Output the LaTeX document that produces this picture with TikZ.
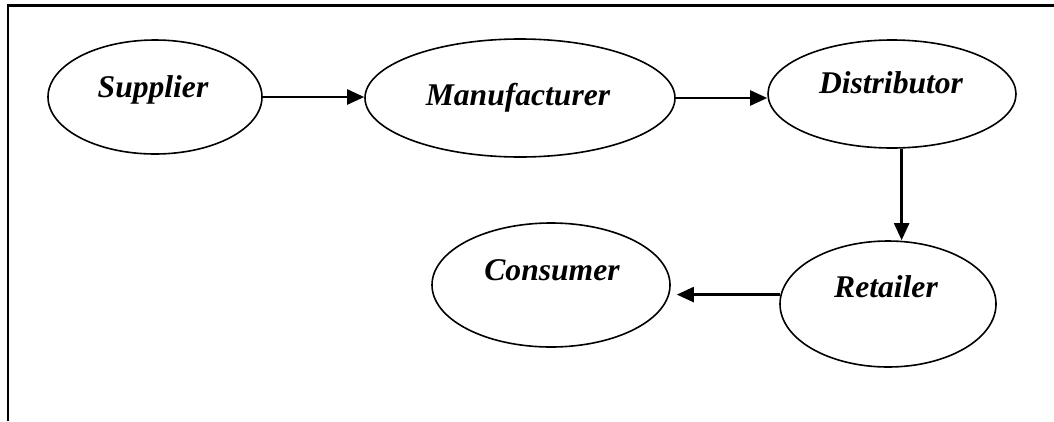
\documentclass[tikz,border=0pt]{standalone}
\usepackage{fontspec}
\setmainfont{Liberation Serif}
\usetikzlibrary{shapes.geometric,arrows.meta}
\begin{document}
\begin{tikzpicture}[x=1pt,y=-1pt,
  oval/.style={draw=black,line width=1.6pt,ellipse,inner sep=0pt},
  lbl/.style={anchor=base,inner sep=0pt,font=\fontsize{31.6}{36}\selectfont\bfseries\itshape},
  arr/.style={line width=2.3pt,-{Triangle[length=17pt,width=15pt]}},
  frame/.style={line width=2.6pt}]
\useasboundingbox (0,0) rectangle (1054,421);
% frame (top and left edges only)
\coordinate (ftl) at (8,5.3);
\coordinate (ftr) at (1054,5.3);
\coordinate (fbl) at (8,421);
\draw[frame] (fbl) -- (ftl) -- (ftr);
% ellipses
\node[oval,minimum width=214pt,minimum height=114pt] (sup) at (155,97) {};
\node[oval,minimum width=310pt,minimum height=118pt] (man) at (520,98) {};
\node[oval,minimum width=248pt,minimum height=108pt] (dis) at (892,94) {};
\node[oval,minimum width=216pt,minimum height=126pt] (ret) at (888,304) {};
\node[oval,minimum width=238pt,minimum height=124pt] (con) at (551,285) {};
% labels
\node[lbl] (supT) at (153,97) {Supplier};
\node[lbl] (manT) at (518,105) {Manufacturer};
\node[lbl] (disT) at (891,93) {Distributor};
\node[lbl] (conT) at (552,280) {Consumer};
\node[lbl] (retT) at (886,297) {Retailer};
% connectors
\draw[arr] (sup.east) -- (man.west |- sup.east);
\draw[arr] (man.east) -- (dis.west |- man.east);
\draw[arr] (dis.-80) -- (dis.-80 |- ret.north);
\draw[arr] (ret.175) -- ([xshift=6pt]con.east |- ret.175);
\end{tikzpicture}
\end{document}
